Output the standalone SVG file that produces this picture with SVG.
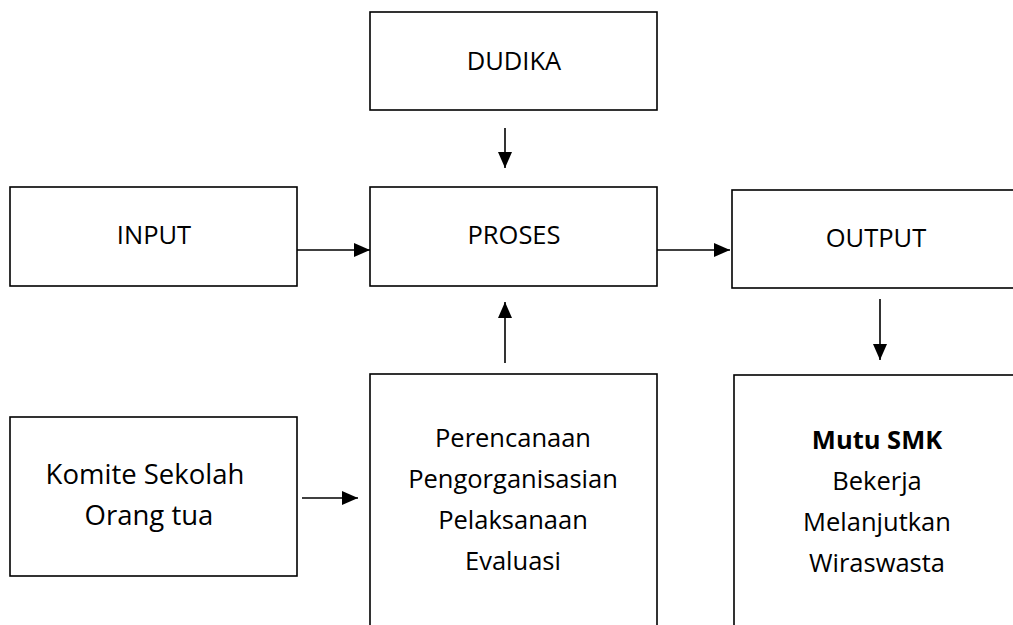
<svg xmlns="http://www.w3.org/2000/svg" width="1013" height="625" viewBox="0 0 1013 625">
<style>
.box{fill:#fff;stroke:#000;stroke-width:1.6}
.t{font-family:"Open Sans","Liberation Sans",sans-serif;font-size:25.5px;fill:#000;text-anchor:middle}
.k{font-size:27.5px}
.b{font-weight:bold}
.c{stroke:#000;stroke-width:1.6;fill:none;marker-end:url(#ah)}
</style>
<defs>
<marker id="ah" markerUnits="userSpaceOnUse" markerWidth="16" markerHeight="14" refX="16" refY="7" orient="auto">
<path d="M0,0 L16,7 L0,14 Z" fill="#000"/>
</marker>
</defs>
<rect width="1013" height="625" fill="#fff"/>
<g id="dudika"><rect class="box" x="370" y="12" width="287" height="98"/><text class="t" x="514" y="70">DUDIKA</text></g>
<g id="input"><rect class="box" x="10" y="187" width="287" height="99"/><text class="t" x="154" y="244">INPUT</text></g>
<g id="proses"><rect class="box" x="370" y="187" width="287" height="99"/><text class="t" x="514" y="244">PROSES</text></g>
<g id="output"><rect class="box" x="732" y="190" width="320" height="98"/><text class="t" x="876" y="247">OUTPUT</text></g>
<g id="komite"><rect class="box" x="10" y="417" width="287" height="159"/>
<text class="t k" x="145" y="484">Komite Sekolah</text><text class="t k" x="149" y="525">Orang tua</text></g>
<g id="manajemen"><rect class="box" x="370" y="374" width="287" height="270"/>
<text class="t" x="513" y="447">Perencanaan</text><text class="t" x="513" y="488">Pengorganisasian</text><text class="t" x="513" y="529">Pelaksanaan</text><text class="t" x="513" y="570">Evaluasi</text></g>
<g id="mutu"><rect class="box" x="734" y="375" width="320" height="270"/>
<text class="t b" x="877" y="449">Mutu SMK</text><text class="t" x="877" y="490">Bekerja</text><text class="t" x="877" y="531">Melanjutkan</text><text class="t" x="877" y="572">Wiraswasta</text></g>
<g id="connectors">
<line class="c" x1="505" y1="128" x2="505" y2="168"/>
<line class="c" x1="297" y1="250" x2="370" y2="250"/>
<line class="c" x1="657" y1="250" x2="730" y2="250"/>
<line class="c" x1="880" y1="299" x2="880" y2="360"/>
<line class="c" x1="505" y1="363" x2="505" y2="302"/>
<line class="c" x1="302" y1="498" x2="358" y2="498"/>
</g>
</svg>
